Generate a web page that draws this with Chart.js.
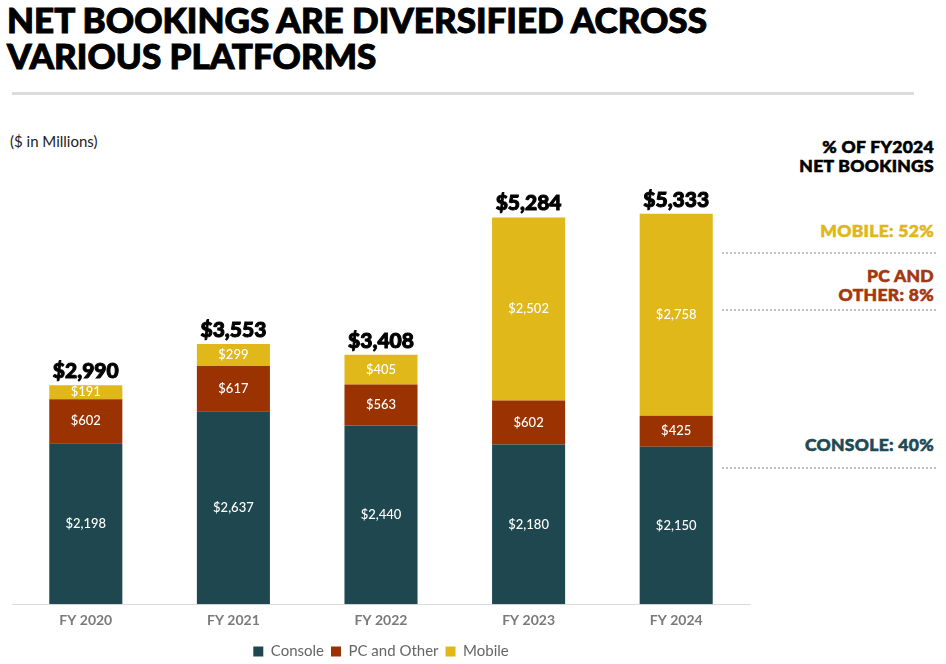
<!DOCTYPE html>
<html>
<head>
<meta charset="utf-8">
<script src="https://cdn.jsdelivr.net/npm/chart.js@4/dist/chart.umd.min.js"></script>
<style>
  html, body { margin: 0; padding: 0; background: #fff; }
  body { width: 946px; height: 664px; position: relative; overflow: hidden; font-family: Lato, "Noto Sans", sans-serif; }
  #wrap { position: absolute; left: 0; top: 0; width: 946px; height: 671px; }
  .title { position: absolute; left: 7px; top: 1px; font-family: Lato, sans-serif; font-weight: 900; font-size: 35px; line-height: 36px; color: #000; letter-spacing: 0px; -webkit-text-stroke: 1px #000; }
  .rule { position: absolute; left: 12px; top: 92px; width: 902px; height: 3px; background: #dcdcdc; }
  .sub { position: absolute; left: 10px; top: 132px; font-size: 15px; color: #222; }
  .ann { position: absolute; right: 12px; text-align: right; font-family: Lato, sans-serif; font-weight: 900; font-size: 17.5px; line-height: 19px; letter-spacing: 0.3px; }
  .dot { position: absolute; left: 722px; width: 214px; height: 0; border-top: 2px dotted #c0c0c0; }
</style>
</head>
<body>
<div class="title">NET BOOKINGS ARE DIVERSIFIED ACROSS<br>VARIOUS PLATFORMS</div>
<div class="rule"></div>
<div class="sub">($ in Millions)</div>
<div class="ann" style="top:137px;color:#000;-webkit-text-stroke:0.6px #000;">% OF FY2024<br>NET BOOKINGS</div>
<div class="ann" style="top:221px;color:#E0B61B;-webkit-text-stroke:0.6px #E0B61B;">MOBILE: 52%</div>
<div class="dot" style="top:252px;"></div>
<div class="ann" style="top:266px;color:#A3380F;-webkit-text-stroke:0.6px #A3380F;">PC AND<br>OTHER: 8%</div>
<div class="dot" style="top:309px;"></div>
<div class="ann" style="top:435px;color:#1F4A53;-webkit-text-stroke:0.6px #1F4A53;">CONSOLE: 40%</div>
<div class="dot" style="top:467px;"></div>
<div id="wrap"><canvas id="c" width="946" height="671"></canvas></div>
<script>
const categories = ["FY 2020", "FY 2021", "FY 2022", "FY 2023", "FY 2024"];
const consoleVals = [2198, 2637, 2440, 2180, 2150];
const pcVals = [602, 617, 563, 602, 425];
const mobileVals = [191, 299, 405, 2502, 2758];
const totals = [2990, 3553, 3408, 5284, 5333];
const seriesNames = ["Console", "PC and Other", "Mobile"];

const fmt = v => "$" + v.toLocaleString("en-US");

const labelPlugin = {
  id: "labels",
  afterDatasetsDraw(chart) {
    const ctx = chart.ctx;
    ctx.save();
    ctx.textAlign = "center";
    ctx.textBaseline = "middle";
    chart.data.datasets.forEach((ds, i) => {
      const meta = chart.getDatasetMeta(i);
      meta.data.forEach((bar, j) => {
        const top = bar.y, bottom = bar.base;
        ctx.fillStyle = "#ffffff";
        ctx.font = "500 13px Lato, 'Noto Sans', sans-serif";
        ctx.fillText(fmt(ds.data[j]), bar.x, (top + bottom) / 2);
      });
    });
    const last = chart.getDatasetMeta(chart.data.datasets.length - 1);
    last.data.forEach((bar, j) => {
      ctx.fillStyle = "#000";
      ctx.strokeStyle = "#000";
      ctx.lineWidth = 1;
      ctx.font = "900 21px Lato, sans-serif";
      ctx.textBaseline = "alphabetic";
      ctx.fillText(fmt(totals[j]), bar.x, bar.y - 7);
      ctx.strokeText(fmt(totals[j]), bar.x, bar.y - 7);
    });
    ctx.restore();
  }
};

new Chart(document.getElementById("c"), {
  type: "bar",
  data: {
    labels: categories,
    datasets: [
      { label: seriesNames[0], data: consoleVals, backgroundColor: "#1F4750" },
      { label: seriesNames[1], data: pcVals, backgroundColor: "#9A3301" },
      { label: seriesNames[2], data: mobileVals, backgroundColor: "#E0B81A" }
    ]
  },
  options: {
    responsive: false,
    animation: false,
    layout: { padding: { left: 12, right: 196, top: 165, bottom: 2 } },
    datasets: { bar: { categoryPercentage: 1.0, barPercentage: 0.495 } },
    scales: {
      x: {
        stacked: true,
        grid: { display: false, drawTicks: false },
        border: { display: true, color: "#dcdcdc", width: 1 },
        ticks: { color: "#7a7a7a", font: { family: "Lato, sans-serif", weight: "bold", size: 14 }, padding: 8 }
      },
      y: {
        stacked: true,
        display: false,
        min: 0,
        max: 6000
      }
    },
    plugins: {
      legend: {
        position: "bottom",
        labels: { boxWidth: 10, boxHeight: 10, color: "#666", font: { family: "Lato, sans-serif", size: 15 }, padding: 7 }
      },
      tooltip: { enabled: false }
    }
  },
  plugins: [labelPlugin]
});
</script>
</body>
</html>
